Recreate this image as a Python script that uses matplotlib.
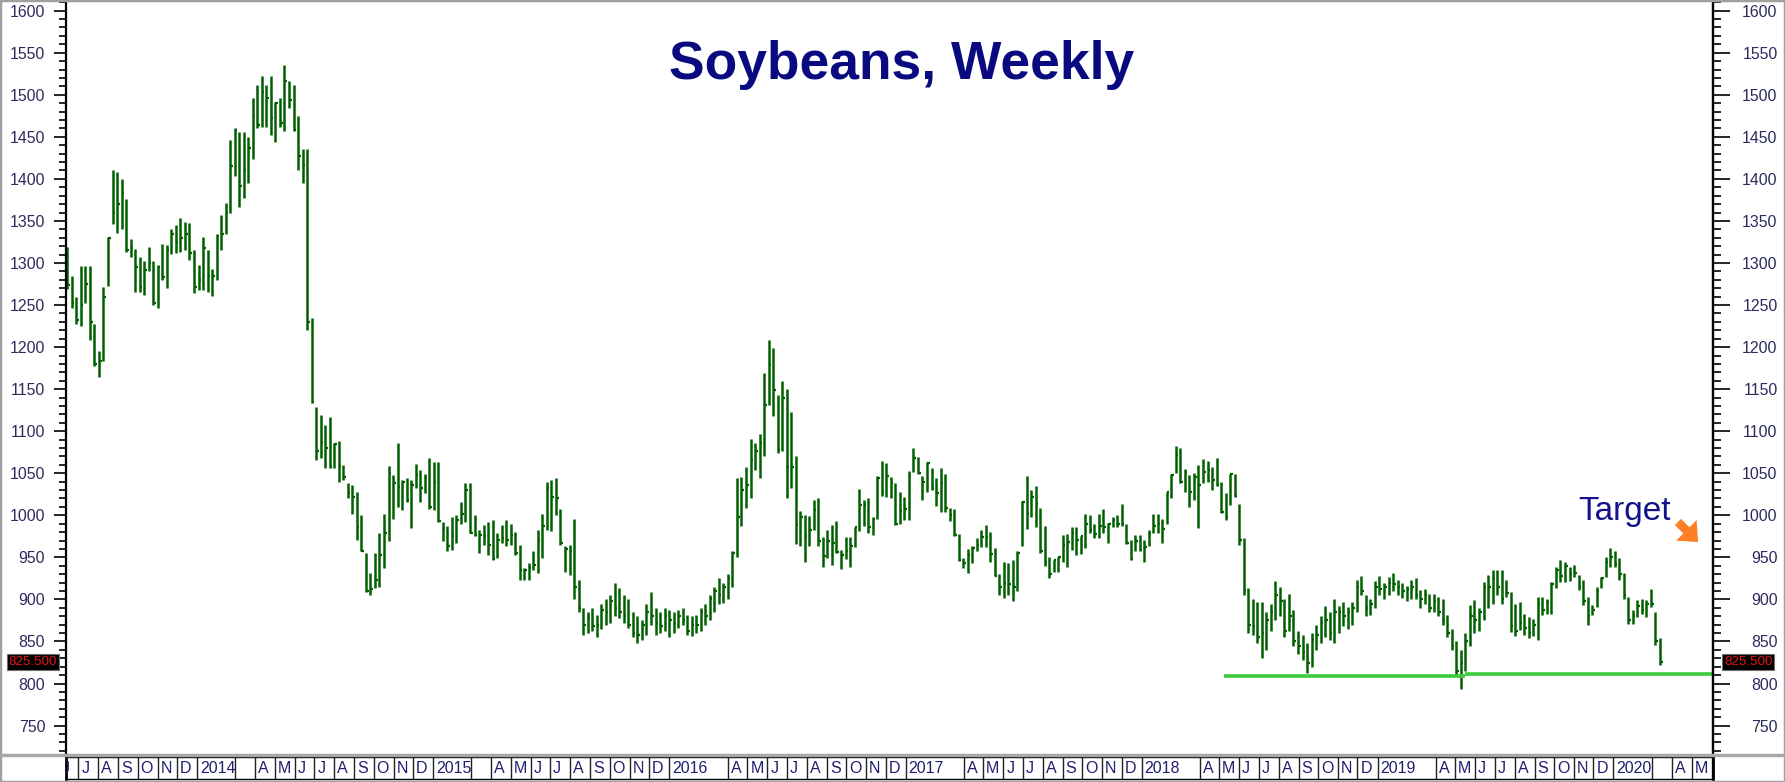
import pandas as pd
import matplotlib
matplotlib.use("Agg")
import matplotlib.pyplot as plt
import matplotlib.dates as mdates
import matplotlib.transforms as mtransforms
from matplotlib.lines import Line2D
from matplotlib.patches import Rectangle
from matplotlib.ticker import MultipleLocator

plt.rcParams['font.family'] = ['Liberation Sans', 'DejaVu Sans']

# weekly soybean bars, first week ending 2013-06-14
first_week = "2013-06-14"

highs = [
    1319, 1285, 1260, 1297, 1296, 1296, 1228, 1195, 1272, 1331, 1410, 1408, 1400, 1376, 1328,
    1317, 1307, 1302, 1319, 1302, 1298, 1322, 1321, 1341, 1345, 1353, 1349, 1347, 1315, 1298,
    1331, 1315, 1293, 1335, 1357, 1371, 1446, 1460, 1456, 1456, 1450, 1496, 1512, 1522, 1512,
    1522, 1492, 1496, 1536, 1516, 1512, 1475, 1435, 1435, 1235, 1129, 1119, 1107, 1117, 1086,
    1088, 1060, 1038, 1036, 1028, 1000, 955, 931, 955, 979, 1002, 1059, 1048, 1086, 1042,
    1044, 1042, 1061, 1054, 1049, 1068, 1063, 1063, 992, 987, 998, 1000, 1016, 1038, 1038,
    1000, 983, 989, 992, 994, 979, 989, 994, 990, 980, 965, 937, 943, 957, 982,
    1002, 1040, 1042, 1044, 1008, 963, 965, 996, 923, 890, 885, 890, 882, 895, 901,
    905, 919, 913, 905, 901, 885, 880, 875, 895, 909, 890, 885, 890, 888, 885,
    888, 890, 882, 880, 882, 890, 895, 905, 915, 925, 920, 930, 958, 1044, 1045,
    1057, 1091, 1086, 1097, 1169, 1209, 1199, 1143, 1160, 1150, 1123, 1070, 1005, 1000, 999,
    1018, 1020, 974, 983, 988, 993, 959, 974, 974, 986, 1031, 1018, 1020, 998, 1047,
    1065, 1062, 1046, 1038, 1028, 1022, 1053, 1080, 1069, 1047, 1063, 1056, 1044, 1056, 1049,
    1009, 1008, 978, 949, 960, 963, 973, 983, 988, 980, 961, 930, 944, 943, 947,
    957, 1017, 1047, 1030, 1035, 1009, 987, 951, 947, 951, 976, 978, 986, 986, 975,
    1002, 1000, 990, 1001, 1008, 991, 998, 1000, 1014, 990, 971, 977, 977, 971, 982,
    1002, 1002, 996, 1028, 1049, 1082, 1080, 1055, 1048, 1050, 1060, 1067, 1064, 1058, 1068,
    1040, 1026, 1049, 1049, 1014, 973, 913, 901, 897, 897, 885, 895, 922, 915, 900,
    907, 888, 862, 858, 848, 860, 870, 880, 892, 885, 900, 892, 897, 891, 897,
    923, 928, 905, 900, 922, 928, 919, 927, 931, 923, 920, 916, 923, 925, 911,
    912, 907, 907, 903, 901, 881, 865, 850, 840, 860, 893, 899, 890, 921, 929,
    935, 935, 935, 923, 909, 895, 897, 883, 879, 877, 903, 903, 901, 921, 939,
    947, 945, 939, 941, 929, 923, 903, 893, 915, 927, 951, 961, 957, 949, 931,
    903, 887, 899, 901, 899, 912, 885, 854,
]

lows = [
    1269, 1247, 1228, 1225, 1252, 1208, 1177, 1164, 1183, 1273, 1346, 1336, 1341, 1313, 1307,
    1266, 1266, 1262, 1290, 1250, 1247, 1280, 1270, 1311, 1312, 1313, 1316, 1304, 1264, 1268,
    1268, 1266, 1261, 1280, 1315, 1335, 1359, 1403, 1367, 1377, 1395, 1424, 1460, 1462, 1462,
    1452, 1444, 1462, 1457, 1484, 1457, 1411, 1395, 1220, 1133, 1066, 1068, 1056, 1056, 1056,
    1040, 1042, 1020, 1002, 971, 957, 909, 905, 913, 915, 937, 969, 996, 1010, 1006,
    1016, 985, 1032, 1016, 1026, 1007, 1006, 992, 969, 957, 959, 967, 990, 992, 979,
    975, 955, 965, 953, 947, 949, 967, 963, 965, 953, 923, 923, 923, 935, 931,
    949, 983, 981, 1000, 965, 933, 929, 900, 885, 858, 860, 862, 855, 865, 870,
    872, 880, 878, 872, 866, 855, 848, 852, 858, 870, 858, 860, 862, 855, 860,
    866, 870, 858, 856, 860, 862, 870, 875, 885, 895, 896, 900, 915, 951, 987,
    1009, 1020, 1054, 1044, 1070, 1131, 1118, 1074, 1076, 1021, 1033, 966, 963, 944, 963,
    982, 963, 939, 949, 941, 955, 936, 948, 939, 962, 981, 987, 979, 976, 996,
    1023, 1022, 1021, 988, 990, 995, 995, 1052, 1049, 1018, 1028, 1030, 1011, 1004, 1004,
    993, 975, 946, 937, 931, 943, 957, 962, 962, 944, 928, 905, 902, 905, 898,
    910, 963, 984, 998, 986, 955, 940, 925, 933, 933, 945, 939, 959, 953, 954,
    961, 979, 973, 973, 979, 967, 986, 986, 987, 966, 947, 957, 958, 945, 963,
    979, 979, 967, 990, 1020, 1050, 1038, 1028, 1010, 1018, 985, 1038, 1040, 1030, 1035,
    1003, 994, 1012, 1022, 965, 905, 860, 858, 848, 830, 840, 862, 875, 880, 855,
    862, 845, 835, 828, 813, 820, 840, 848, 855, 852, 848, 860, 868, 865, 870,
    885, 905, 880, 882, 890, 905, 900, 905, 910, 905, 902, 898, 900, 900, 890,
    895, 885, 885, 880, 870, 855, 840, 810, 793, 815, 845, 860, 862, 875, 890,
    895, 905, 894, 903, 861, 856, 864, 858, 854, 856, 852, 882, 883, 883, 913,
    921, 921, 922, 927, 911, 893, 869, 881, 891, 913, 927, 939, 939, 923, 901,
    871, 871, 879, 883, 879, 891, 846, 822,
]

closes = [
    1274, 1252, 1232, 1250, 1275, 1230, 1180, 1183, 1260, 1330, 1359, 1370, 1383, 1315, 1318,
    1295, 1272, 1292, 1300, 1252, 1295, 1283, 1315, 1335, 1325, 1330, 1335, 1312, 1272, 1280,
    1318, 1285, 1285, 1332, 1335, 1360, 1415, 1458, 1391, 1410, 1437, 1475, 1464, 1503, 1496,
    1472, 1490, 1466, 1516, 1494, 1458, 1427, 1416, 1230, 1135, 1077, 1087, 1080, 1058, 1085,
    1058, 1045, 1026, 1022, 986, 957, 910, 912, 923, 953, 979, 1050, 1038, 1034, 1040,
    1018, 1036, 1048, 1032, 1045, 1010, 1040, 993, 985, 963, 975, 994, 1002, 1030, 979,
    977, 977, 975, 965, 949, 971, 973, 971, 977, 955, 935, 935, 937, 941, 971,
    987, 1032, 1022, 1020, 967, 960, 958, 915, 890, 870, 878, 868, 870, 888, 885,
    898, 890, 885, 880, 870, 860, 858, 870, 885, 880, 872, 868, 880, 876, 872,
    880, 875, 862, 870, 870, 885, 880, 900, 910, 905, 915, 925, 955, 998, 1030,
    1036, 1066, 1076, 1086, 1131, 1179, 1149, 1078, 1139, 1058, 1058, 988, 998, 975, 983,
    1006, 969, 952, 969, 967, 956, 953, 957, 963, 986, 1012, 1012, 986, 996, 1044,
    1028, 1047, 1038, 990, 1005, 1008, 1047, 1068, 1050, 1040, 1062, 1033, 1026, 1038, 1009,
    1000, 976, 947, 943, 953, 961, 965, 974, 974, 954, 928, 915, 920, 918, 915,
    955, 1016, 1002, 1022, 1014, 957, 945, 930, 947, 951, 965, 968, 979, 971, 975,
    990, 983, 978, 987, 986, 990, 995, 990, 990, 967, 948, 969, 959, 962, 979,
    987, 990, 984, 1028, 1048, 1072, 1040, 1052, 1028, 1046, 1036, 1051, 1054, 1042, 1036,
    1004, 998, 1049, 1023, 971, 911, 870, 868, 855, 860, 875, 885, 905, 898, 862,
    880, 850, 845, 838, 825, 852, 858, 872, 875, 860, 885, 885, 880, 885, 890,
    915, 910, 890, 895, 915, 912, 915, 920, 918, 915, 910, 912, 915, 905, 900,
    905, 890, 898, 885, 875, 860, 845, 815, 825, 850, 880, 875, 885, 915, 915,
    925, 915, 900, 908, 868, 862, 872, 866, 860, 870, 895, 888, 897, 918, 935,
    928, 940, 930, 932, 915, 898, 880, 888, 910, 925, 945, 950, 942, 930, 905,
    875, 880, 892, 888, 895, 895, 850, 825.5,
]

last_price = 825.5
support_starts = ["2018-05-08", "2019-05-17"]
support_ends = ["2019-05-17", "2020-06-03"]
support_levels = [809.5, 811.0]
blank_march_years = [2014, 2015, 2020]
title = "Soybeans, Weekly"
target_label = "Target"

W, H = 1785, 782
BAR = "#006000"
NAVY = "#0a0a80"
TICK_TXT = "#2b2b5e"


def px_rect(x0, y0, x1, y1):
    # pixel box (top-left origin) -> figure fraction rect
    return [x0 / W, 1 - y1 / H, (x1 - x0) / W, (y1 - y0) / H]


fig = plt.figure(figsize=(W / 100, H / 100), dpi=100)
fig.patch.set_facecolor("white")

ax = fig.add_axes(px_rect(66, 1, 1713, 753))
dates = pd.date_range(first_week, periods=len(highs), freq="7D")
x = mdates.date2num(dates)

ax.vlines(x, lows, highs, color=BAR, lw=1.8)
ax.hlines(closes, x, x + 4.0, color=BAR, lw=1.6)

# support line
for s, e, lvl in zip(support_starts, support_ends, support_levels):
    ax.plot([mdates.date2num(pd.Timestamp(s)), mdates.date2num(pd.Timestamp(e))],
            [lvl, lvl], color="#3ccc3c", lw=2.6, solid_capstyle="butt")

xmin = mdates.date2num(pd.Timestamp("2013-06-12"))
xmax = mdates.date2num(pd.Timestamp("2020-06-03"))
ax.set_xlim(xmin, xmax)
ax.set_ylim(717.4, 1611.5)

ax.yaxis.set_major_locator(MultipleLocator(50))
ax.yaxis.set_minor_locator(MultipleLocator(10))
ax.tick_params(axis="x", bottom=False, labelbottom=False)
ax.tick_params(axis="y", which="major", length=9, width=1.2, color="black",
               labelsize=11.4, labelcolor=TICK_TXT, pad=6)
ax.tick_params(axis="y", which="minor", length=5, width=1.2, color="black")
for side in ["left", "right"]:
    ax.spines[side].set_color("black")
    ax.spines[side].set_linewidth(1.6)
ax.spines["top"].set_color("#a0a0a0")
ax.spines["bottom"].set_visible(False)

ax2 = ax.twinx()
ax2.set_ylim(ax.get_ylim())
ax2.yaxis.set_major_locator(MultipleLocator(50))
ax2.yaxis.set_minor_locator(MultipleLocator(10))
ax2.tick_params(axis="y", which="major", length=12, width=1.2, color="black",
                labelsize=11.4, labelcolor=TICK_TXT, pad=34.5)
ax2.tick_params(axis="y", which="minor", length=6, width=1.2, color="black")
for side in ["left", "top", "bottom"]:
    ax2.spines[side].set_visible(False)
ax2.spines["right"].set_linewidth(1.6)
plt.setp(ax2.get_yticklabels(), ha="right")

# last price flags on both sides
flag = dict(boxstyle="square,pad=0.12", fc="black", ec="#707070", lw=0.8)
ax.annotate(f"{last_price:.3f}", xy=(0, last_price), xycoords=ax.get_yaxis_transform(),
            xytext=(-9, 0), textcoords="offset pixels", ha="right", va="center",
            fontsize=9.6, color="#e81515", bbox=flag)
ax.annotate(f"{last_price:.3f}", xy=(1, last_price), xycoords=ax.get_yaxis_transform(),
            xytext=(11, 0), textcoords="offset pixels", ha="left", va="center",
            fontsize=9.6, color="#e81515", bbox=flag)

# month strip under the chart
strip = fig.add_axes(px_rect(66, 757, 1713, 779))
strip.set_xlim(xmin, xmax)
strip.set_ylim(0, 1)
strip.set_xticks([])
strip.set_yticks([])
for side in ["top", "bottom"]:
    strip.spines[side].set_linewidth(1.0)
for side in ["left", "right"]:
    strip.spines[side].set_linewidth(2.0)
lbl_tr = mtransforms.offset_copy(strip.get_xaxis_transform(), fig=fig, x=3, y=0, units="dots")
for m in pd.date_range("2013-06-01", "2020-06-01", freq="MS"):
    mx = mdates.date2num(m)
    if m.month == 2:
        continue
    if m.month == 3 and m.year not in blank_march_years:
        continue
    strip.axvline(mx, color="#222222", lw=1.0)
    if m.month == 1:
        lab = str(m.year)
    elif m.month == 3:
        lab = ""
    else:
        lab = m.strftime("%b")[0]
    strip.text(mx, 0.48, lab, transform=lbl_tr, ha="left", va="center",
               fontsize=11.5, color="#1f1f6e", clip_on=True)

# frame and separator
fig.add_artist(Line2D([0, 1], [1 - 755 / H] * 2, color="#a8a8a8", lw=2.5))
fig.patches.append(Rectangle((0, 0), 1, 1, transform=fig.transFigure, fill=False,
                             ec="#a0a0a0", lw=2.5))

# title and target annotation
fig.text(902 / W, 1 - 65 / H, title, ha="center", va="center", fontsize=38.4,
         fontweight="bold", color=NAVY)
fig.text(1624 / W, 1 - 520 / H, target_label, ha="center", va="baseline", fontsize=24,
         color="#12128c")
ax.annotate("", xy=(1700, H - 544), xycoords="figure pixels",
            xytext=(1676, H - 520), textcoords="figure pixels",
            arrowprops=dict(arrowstyle="simple,head_width=1.5,head_length=0.85,tail_width=0.45",
                            fc="#ff7f27", ec="none", mutation_scale=14))

fig.savefig("out.png", dpi=100)
